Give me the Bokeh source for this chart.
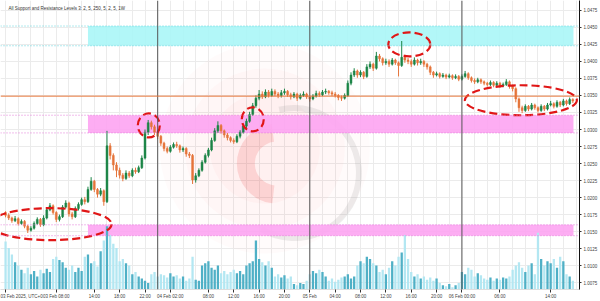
import numpy as np
from bokeh.plotting import figure
from bokeh.models import Range1d, FixedTicker, Span, Label, ColumnDataSource
from bokeh.embed import file_html
from bokeh.resources import INLINE

TITLE = "All Support and Resistance Levels 3: 2, 5, 250, 5, 2, 5, 1W"

# 30-minute bars, prices in pips (1.0000 = 10000)
first_open_pips = 10178
close_pips = [
    10174, 10170, 10166, 10169, 10162, 10165, 10158, 10152, 10155, 10162,
    10168, 10160, 10170, 10182, 10188, 10178, 10168, 10172, 10186, 10192,
    10176, 10172, 10184, 10190, 10197, 10194, 10212, 10224, 10212, 10205,
    10210, 10194, 10276, 10262, 10248, 10240, 10233, 10228, 10236, 10232,
    10240, 10238, 10244, 10258, 10296, 10310, 10304, 10296, 10290, 10280,
    10272, 10268, 10274, 10278, 10276, 10270, 10272, 10264, 10262, 10226,
    10232, 10240, 10252, 10262, 10270, 10284, 10298, 10306, 10298, 10292,
    10288, 10284, 10282, 10290, 10296, 10305, 10312, 10322, 10335, 10346,
    10352, 10348, 10355, 10350, 10356, 10352, 10350, 10354, 10356, 10351,
    10348, 10352, 10346, 10350, 10352, 10348, 10345, 10349, 10353, 10351,
    10355, 10356, 10354, 10352, 10350, 10347, 10346, 10350, 10368, 10380,
    10386, 10380, 10384, 10378, 10392, 10396, 10390, 10408, 10404, 10398,
    10400, 10396, 10402, 10398, 10394, 10406, 10402, 10400, 10396, 10402,
    10398, 10400, 10396, 10392, 10384, 10380, 10382, 10378, 10380, 10377,
    10379, 10376, 10378, 10374, 10378, 10382, 10376, 10372, 10370, 10373,
    10370, 10368, 10366, 10369, 10365, 10368, 10364, 10366, 10370, 10364,
    10360, 10345, 10332, 10328, 10334, 10330, 10336, 10332, 10328, 10334,
    10330, 10336, 10338, 10334, 10340, 10336, 10342, 10338, 10344, 10342,
]
high_pips = [
    10180, 10177, 10172, 10173, 10171, 10168, 10167, 10160, 10158, 10165,
    10171, 10170, 10174, 10185, 10192, 10190, 10180, 10175, 10189, 10196,
    10194, 10179, 10187, 10193, 10200, 10201, 10216, 10230, 10226, 10214,
    10214, 10212, 10298, 10280, 10265, 10252, 10244, 10236, 10240, 10239,
    10243, 10244, 10247, 10262, 10300, 10314, 10313, 10307, 10299, 10292,
    10282, 10275, 10277, 10281, 10282, 10278, 10275, 10274, 10267, 10264,
    10236, 10243, 10255, 10265, 10273, 10288, 10302, 10312, 10308, 10300,
    10295, 10290, 10287, 10293, 10299, 10308, 10316, 10326, 10339, 10350,
    10358, 10356, 10359, 10358, 10360, 10359, 10355, 10358, 10360, 10358,
    10354, 10355, 10354, 10353, 10356, 10354, 10350, 10352, 10357, 10356,
    10358, 10360, 10358, 10357, 10355, 10352, 10350, 10353, 10372, 10384,
    10390, 10388, 10387, 10386, 10396, 10400, 10398, 10414, 10411, 10406,
    10404, 10403, 10405, 10404, 10400, 10430, 10410, 10405, 10403, 10406,
    10404, 10404, 10402, 10398, 10394, 10386, 10385, 10384, 10383, 10382,
    10382, 10381, 10381, 10380, 10381, 10386, 10384, 10378, 10375, 10376,
    10375, 10372, 10370, 10372, 10371, 10371, 10370, 10369, 10374, 10372,
    10366, 10362, 10347, 10335, 10337, 10336, 10339, 10338, 10334, 10337,
    10336, 10339, 10342, 10340, 10343, 10342, 10345, 10344, 10347, 10346,
]
low_pips = [
    10171, 10167, 10163, 10164, 10159, 10160, 10155, 10148, 10150, 10153,
    10160, 10157, 10158, 10168, 10180, 10175, 10164, 10165, 10170, 10184,
    10172, 10168, 10170, 10181, 10188, 10190, 10192, 10210, 10208, 10200,
    10202, 10188, 10192, 10256, 10240, 10230, 10228, 10224, 10226, 10229,
    10230, 10235, 10236, 10242, 10256, 10292, 10300, 10292, 10286, 10276,
    10268, 10265, 10266, 10272, 10273, 10266, 10267, 10260, 10258, 10220,
    10222, 10230, 10238, 10250, 10259, 10268, 10282, 10295, 10294, 10288,
    10284, 10281, 10279, 10280, 10287, 10294, 10302, 10310, 10320, 10332,
    10343, 10345, 10346, 10347, 10348, 10349, 10346, 10347, 10351, 10348,
    10344, 10346, 10342, 10344, 10348, 10345, 10341, 10343, 10347, 10348,
    10349, 10352, 10351, 10349, 10347, 10343, 10342, 10344, 10348, 10365,
    10377, 10376, 10377, 10374, 10376, 10389, 10386, 10388, 10400, 10394,
    10395, 10392, 10394, 10395, 10378, 10392, 10398, 10396, 10392, 10394,
    10394, 10395, 10392, 10388, 10380, 10376, 10378, 10375, 10376, 10374,
    10375, 10373, 10374, 10371, 10372, 10376, 10373, 10369, 10367, 10368,
    10367, 10365, 10363, 10364, 10362, 10363, 10361, 10362, 10364, 10360,
    10356, 10340, 10326, 10324, 10326, 10327, 10328, 10329, 10325, 10326,
    10327, 10328, 10334, 10331, 10332, 10333, 10334, 10335, 10336, 10339,
]
volume_k = [
    44, 38, 32, 25, 22, 18, 15, 20, 14, 17,
    12, 18, 15, 19, 16, 28, 30, 27, 25, 20,
    18, 22, 16, 20, 17, 30, 32, 24, 26, 21,
    35, 45, 58, 50, 42, 38, 26, 28, 24, 22,
    14, 16, 12, 10, 8, 6, 14, 16, 12, 14,
    13, 11, 15, 12, 13, 10, 12, 8, 10, 30,
    9, 8, 22, 24, 26, 20, 18, 22, 15, 17,
    14, 16, 18, 15, 17, 14, 22, 24, 26, 45,
    28, 25, 22, 26, 20, 12, 14, 11, 13, 10,
    12, 5, 4, 6, 5, 8, 14, 17, 15, 18,
    16, 12, 8, 10, 7, 9, 11, 12, 14, 10,
    12, 22, 26, 24, 30, 28, 24, 22, 16, 18,
    14, 20, 26, 22, 30, 34, 50, 28, 16, 12,
    14, 10, 12, 9, 11, 8, 10, 6, 4, 3,
    5, 2, 4, 6, 16, 14, 20, 18, 12, 15,
    13, 10, 9, 11, 8, 10, 9, 11, 10, 12,
    18, 22, 25, 20, 16, 22, 24, 14, 52, 28,
    22, 26, 24, 28, 20, 30, 26, 14, 12, 8,
]

# support / resistance zones (hours from 03 Feb 00:00 UTC, pips)
zone_start_h = [13.0, 13.0, 13.0]
zone_end_h = [89.6, 89.6, 89.6]
zone_low = [10423, 10295, 10144]
zone_high = [10452, 10321, 10160]
zone_colors = ["#aaf6f7", "#fda4f2", "#fda4f2"]
zone_edge_colors = ["#66d4dc", "#e27ad8", "#e27ad8"]

level_pips = 10349      # orange level

# highlighted areas (red dashed)
mark_h = [7.1, 22.6, 39.0, 63.7, 81.3]
mark_pips = [10161, 10306, 10315, 10425, 10343]
mark_w = [122, 22, 22, 42, 112]
mark_hgt = [32, 24, 24, 24, 30]

price_ticks = list(range(10075, 10476, 25))
time_ticks = [0, 8, 14, 18, 22, 26, 32, 36, 40, 44, 48, 52, 56, 60, 64, 68, 72, 78, 86]
time_labels = ["03 Feb 2025, UTC+0", "03 Feb 08:00", "14:00", "18:00", "22:00",
               "04 Feb 02:00", "08:00", "12:00", "16:00", "20:00", "05 Feb",
               "04:00", "08:00", "12:00", "16:00", "20:00", "06 Feb 00:00",
               "06:00", "14:00"]
day_breaks_h = [24, 48, 72]
grid_h = list(range(0, 92, 2))

n = min(len(close_pips), len(high_pips), len(low_pips), len(volume_k))
t = np.arange(n) * 0.5
closes = np.array(close_pips[:n], dtype=float)
opens = np.array([first_open_pips] + close_pips[:n - 1], dtype=float)
up = closes >= opens

UP = "#1b8446"
DOWN = "#e5743a"
src = ColumnDataSource(dict(
    t=t, o=opens, c=closes,
    h=np.array(high_pips[:n], float), l=np.array(low_pips[:n], float),
    top=np.maximum(opens, closes), bot=np.minimum(opens, closes),
    col=[UP if u else DOWN for u in up],
    vcol=["#4fb0c6" if u else "#b3e7f2" for u in up],
    v=np.array(volume_k[:n], float),
))

X0, X1 = -0.8, 90.55
Y0, Y1 = 10065.0, 10489.5
FONT = "4.5px"

p = figure(width=600, height=301, output_backend="svg", toolbar_location=None,
           x_range=Range1d(X0, X1), y_range=Range1d(Y0, Y1),
           y_axis_location="right", min_border_left=0, min_border_top=0,
           min_border_right=0, min_border_bottom=0)
p.outline_line_color = None
p.background_fill_color = "white"
p.border_fill_color = "white"

# grid
p.xgrid.ticker = FixedTicker(ticks=grid_h)
p.ygrid.ticker = FixedTicker(ticks=price_ticks)
p.xgrid.grid_line_color = "#ebebeb"
p.ygrid.grid_line_color = "#ebebeb"

# watermark
wm_h, wm_p = [40.9, 42.8, 45.5], [10272, 10250, 10236]
for r, a in [(105, 0.03), (80, 0.035), (55, 0.045)]:
    p.circle(x=[wm_h[0]], y=[wm_p[0]], radius=r, radius_units="screen",
             fill_color="#ff7070", fill_alpha=a, line_color=None)
p.annular_wedge(x=[wm_h[2]], y=[wm_p[2]], inner_radius=62, outer_radius=68,
                inner_radius_units="screen", outer_radius_units="screen",
                start_angle=-2.1, end_angle=1.8, fill_color="#9a9a9a",
                fill_alpha=0.18, line_color=None)
p.annular_wedge(x=[wm_h[1]], y=[wm_p[1]], inner_radius=22, outer_radius=40,
                inner_radius_units="screen", outer_radius_units="screen",
                start_angle=1.7, end_angle=4.6, fill_color="#f04a4a",
                fill_alpha=0.17, line_color=None)

# zones
p.quad(left=zone_start_h, right=zone_end_h, bottom=zone_low, top=zone_high,
       fill_color=zone_colors, fill_alpha=0.9, line_color=None)
for lo, hi, ec in zip(zone_low, zone_high, zone_edge_colors):
    for loc in (lo, hi):
        p.add_layout(Span(location=loc, dimension="width", line_color=ec,
                          line_dash="1 2", line_width=1))

# day separators
for d in day_breaks_h:
    p.add_layout(Span(location=d, dimension="height", line_color="#555555",
                      line_width=1))

# volume overlay
p.extra_y_ranges = {"vol": Range1d(0, 265)}
p.vbar(x="t", top="v", bottom=0, width=0.36, fill_color="vcol", line_color=None,
       source=src, y_range_name="vol")

# level line
p.add_layout(Span(location=level_pips, dimension="width", line_color="#e8773a",
                  line_width=1))

# candles
p.segment(x0="t", y0="l", x1="t", y1="h", line_color="col", line_width=1, source=src)
p.vbar(x="t", top="top", bottom="bot", width=0.3, fill_color="col",
       line_color="col", line_width=0.5, source=src)

# red dashed highlights
p.ellipse(x=mark_h, y=mark_pips, width=mark_w, height=mark_hgt,
          width_units="screen", height_units="screen", fill_color=None,
          line_color="#e01616", line_width=2.2, line_dash="8 4")

# axes
p.xaxis.ticker = FixedTicker(ticks=time_ticks)
p.xaxis.major_label_overrides = {k: v for k, v in zip(time_ticks, time_labels)}
p.xaxis.major_label_text_font_size = FONT
p.xaxis.major_label_text_color = "#444444"
p.xaxis.major_label_text_align = "left"
p.xaxis.axis_line_color = "#dddddd"
p.xaxis.major_tick_line_color = "#333333"
p.xaxis.major_tick_out = 3
p.xaxis.major_tick_in = 0
p.xaxis.minor_tick_line_color = None
p.xaxis.major_label_standoff = 1

p.yaxis.ticker = FixedTicker(ticks=price_ticks)
p.yaxis.major_label_overrides = {k: f"{k / 10000:.4f}" for k in price_ticks}
p.yaxis.major_label_text_font_size = FONT
p.yaxis.major_label_text_color = "#444444"
p.yaxis.axis_line_color = "#111111"
p.yaxis.major_tick_line_color = "#333333"
p.yaxis.major_tick_out = 2
p.yaxis.major_tick_in = 0
p.yaxis.minor_tick_line_color = None
p.yaxis.major_label_standoff = 2

# title
p.add_layout(Label(x=X0, y=Y1, x_offset=8, y_offset=-8, text=TITLE,
                   text_font_size=FONT, text_color="#333333",
                   text_baseline="middle"))

open("out.html", "w").write(file_html(p, INLINE))
